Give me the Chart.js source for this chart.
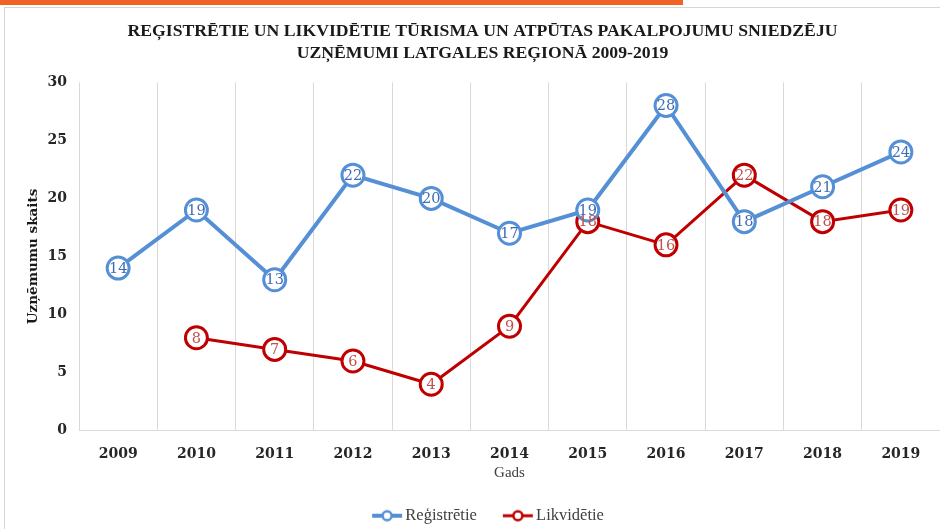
<!DOCTYPE html>
<html>
<head>
<meta charset="utf-8">
<script src="https://cdn.jsdelivr.net/npm/chart.js@4/dist/chart.umd.min.js"></script>
<style>
  html, body { margin: 0; padding: 0; background: #fff; }
  #wrap { position: relative; width: 940px; height: 529px; overflow: hidden; }
  #topbar { position: absolute; left: 0; top: 0; width: 683px; height: 5px; background: #F26125; }
  #frameTop { position: absolute; left: 4px; top: 7px; right: 0; height: 1px; background: #D6D6D6; }
  #frameLeft { position: absolute; left: 4px; top: 7px; bottom: 0; width: 1px; background: #D6D6D6; }
  canvas { position: absolute; left: 0; top: 0; }
</style>
</head>
<body>
<div id="wrap">
  <div id="topbar"></div>
  <div id="frameTop"></div>
  <div id="frameLeft"></div>
  <canvas id="chart" width="940" height="529"></canvas>
</div>
<script>
const years = ["2009", "2010", "2011", "2012", "2013", "2014", "2015", "2016", "2017", "2018", "2019"];
const registered = [14, 19, 13, 22, 20, 17, 19, 28, 18, 21, 24];
const liquidated = [null, 8, 7, 6, 4, 9, 18, 16, 22, 18, 19];
const titleLines = [
  "REĢISTRĒTIE UN LIKVIDĒTIE TŪRISMA UN ATPŪTAS PAKALPOJUMU SNIEDZĒJU",
  "UZŅĒMUMI LATGALES REĢIONĀ 2009-2019"
];

const BLUE = "#5590D6";
const RED = "#C00000";
const serif = "'Liberation Serif', 'DejaVu Serif', serif";
const wideSerif = "'DejaVu Serif', serif";

// line+marker icon for the legend (left part left transparent for spacing)
function legendIcon(color, lw) {
  const c = document.createElement("canvas");
  c.width = 48; c.height = 14;
  const g = c.getContext("2d");
  g.strokeStyle = color;
  g.lineWidth = lw;
  g.beginPath(); g.moveTo(17, 7); g.lineTo(47, 7); g.stroke();
  g.fillStyle = "#fff";
  g.lineWidth = 2.5;
  g.beginPath(); g.arc(32, 7, 4.5, 0, Math.PI * 2); g.fill(); g.stroke();
  return c;
}

// value labels drawn inside the markers
const valueLabels = {
  id: "valueLabels",
  afterDatasetsDraw(chart) {
    const ctx = chart.ctx;
    ctx.save();
    ctx.font = "14.5px " + wideSerif;
    ctx.textAlign = "center";
    ctx.textBaseline = "middle";
    chart.data.datasets.forEach((ds, i) => {
      const meta = chart.getDatasetMeta(i);
      meta.data.forEach((pt, j) => {
        const v = ds.data[j];
        if (v === null || pt.skip) return;
        ctx.fillStyle = ds.labelColor;
        ctx.fillText(String(v), pt.x, pt.y + 1);
      });
    });
    ctx.restore();
  }
};

new Chart(document.getElementById("chart"), {
  type: "line",
  data: {
    labels: years,
    datasets: [
      {
        label: "Reģistrētie",
        data: registered,
        borderColor: BLUE,
        borderWidth: 4,
        pointRadius: 11,
        pointHoverRadius: 11,
        pointBorderWidth: 3,
        pointBackgroundColor: "#fff",
        pointBorderColor: BLUE,
        labelColor: "#3D6CB4",
        icon: legendIcon(BLUE, 4)
      },
      {
        label: "Likvidētie",
        data: liquidated,
        borderColor: RED,
        borderWidth: 3,
        pointRadius: 11,
        pointHoverRadius: 11,
        pointBorderWidth: 3,
        pointBackgroundColor: "#fff",
        pointBorderColor: RED,
        labelColor: "#C0504D",
        icon: legendIcon(RED, 3)
      }
    ]
  },
  plugins: [valueLabels],
  options: {
    responsive: false,
    animation: false,
    layout: { autoPadding: false, padding: { top: 16, right: 0, bottom: -5, left: 25 } },
    plugins: {
      title: {
        display: true,
        text: titleLines,
        color: "#1A1A1A",
        font: { family: serif, size: 17.7, weight: "bold", lineHeight: 1.25 },
        padding: { top: 4, bottom: 18 }
      },
      legend: {
        position: "bottom",
        labels: {
          usePointStyle: true,
          pointStyleWidth: 36,
          color: "#404040",
          font: { family: serif, size: 16.5 },
          padding: 15,
          generateLabels(chart) {
            const items = Chart.defaults.plugins.legend.labels.generateLabels(chart);
            items.forEach(it => { it.pointStyle = chart.data.datasets[it.datasetIndex].icon; });
            return items;
          }
        }
      },
      tooltip: { enabled: false }
    },
    scales: {
      x: {
        offset: true,
        grid: { display: true, offset: true, color: "#D9D9D9", lineWidth: 1, drawTicks: false },
        border: { display: true, color: "#D9D9D9" },
        ticks: { color: "#262626", font: { family: wideSerif, size: 14, weight: "bold" }, padding: 15 },
        title: { display: true, text: "Gads", color: "#404040", font: { family: serif, size: 15 }, padding: { top: -13, bottom: 10 } }
      },
      y: {
        min: 0,
        max: 30,
        afterFit(scale) { scale.width = 54; },
        grid: { display: false, drawTicks: false },
        border: { display: false },
        ticks: { stepSize: 5, color: "#262626", font: { family: wideSerif, size: 14, weight: "bold" }, padding: 12 },
        title: { display: true, text: "Uzņēmumu skaits", color: "#1A1A1A", font: { family: wideSerif, size: 13.5, weight: "bold" }, padding: { top: 0, bottom: 2 } }
      }
    }
  }
});
</script>
</body>
</html>
